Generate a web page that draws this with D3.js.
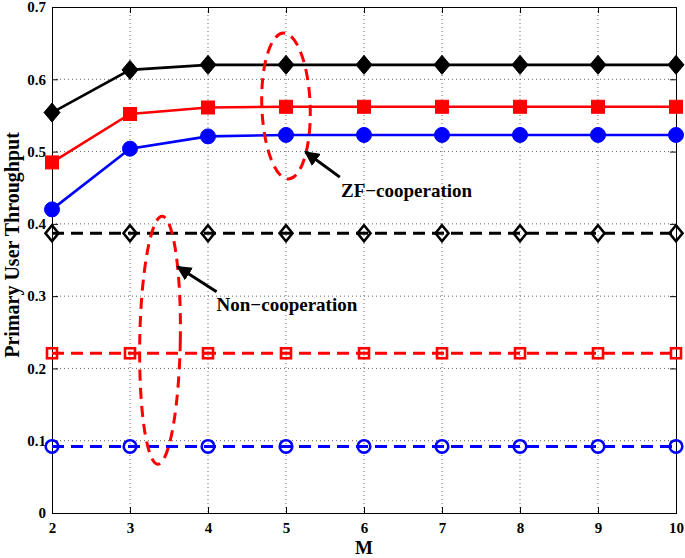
<!DOCTYPE html>
<html>
<head>
<meta charset="utf-8">
<script src="https://cdn.jsdelivr.net/npm/d3@7"></script>
<style>
  html, body { margin: 0; padding: 0; background: #fff; }
  svg { display: block; }
  text { font-family: "Liberation Serif", "Times New Roman", serif; font-weight: bold; fill: #000; }
</style>
</head>
<body>
<svg id="chart" width="685" height="558"></svg>
<script>
// ---------------- data ----------------
const mValues = [2, 3, 4, 5, 6, 7, 8, 9, 10];
const xTicks = [2, 3, 4, 5, 6, 7, 8, 9, 10];
const yTicks = [0, 0.1, 0.2, 0.3, 0.4, 0.5, 0.6, 0.7];
const yTickLabels = ["0", "0.1", "0.2", "0.3", "0.4", "0.5", "0.6", "0.7"];

const zfBlack = [0.554, 0.613, 0.620, 0.620, 0.620, 0.620, 0.620, 0.620, 0.620];
const zfRed   = [0.485, 0.552, 0.561, 0.562, 0.562, 0.562, 0.562, 0.562, 0.562];
const zfBlue  = [0.420, 0.504, 0.521, 0.523, 0.523, 0.523, 0.523, 0.523, 0.523];
const ncBlack = [0.387, 0.387, 0.387, 0.387, 0.387, 0.387, 0.387, 0.387, 0.387];
const ncRed   = [0.221, 0.221, 0.221, 0.221, 0.221, 0.221, 0.221, 0.221, 0.221];
const ncBlue  = [0.092, 0.092, 0.092, 0.092, 0.092, 0.092, 0.092, 0.092, 0.092];

const xLabel = "M";
const yLabel = "Primary User Throughput";
const zfText = "ZF\u2212cooperation";
const ncText = "Non\u2212cooperation";

// ---------------- layout ----------------
const svg = d3.select("#chart");
const L = 52, R = 676, T = 7, B = 513;
const x = d3.scaleLinear().domain([2, 10]).range([L, R]);
const y = d3.scaleLinear().domain([0, 0.7]).range([B, T]);

// grid
const grid = svg.append("g");
xTicks.slice(1, -1).forEach(v => {
  grid.append("line").attr("x1", x(v)).attr("x2", x(v)).attr("y1", T).attr("y2", B)
    .attr("stroke", "#666").attr("stroke-width", 1).attr("stroke-dasharray", "1,3");
});
yTicks.slice(1, -1).forEach(v => {
  grid.append("line").attr("x1", L).attr("x2", R).attr("y1", y(v)).attr("y2", y(v))
    .attr("stroke", "#666").attr("stroke-width", 1).attr("stroke-dasharray", "1,3");
});

// axes (box with inward ticks)
const tickLen = 6;
const axB = d3.axisBottom(x).tickValues(xTicks).tickSize(-tickLen).tickPadding(9).tickFormat(d3.format("d"));
const axT = d3.axisTop(x).tickValues(xTicks).tickSize(-tickLen).tickFormat("");
const axL = d3.axisLeft(y).tickValues(yTicks).tickSize(-tickLen).tickPadding(6).tickFormat((d, i) => yTickLabels[i]);
const axR = d3.axisRight(y).tickValues(yTicks).tickSize(-tickLen).tickFormat("");

function styleAxis(g) {
  g.select(".domain").remove();
  g.selectAll(".tick line").attr("stroke", "#000").attr("stroke-width", 1);
  g.selectAll(".tick text").style("font-family", "'Liberation Serif', serif")
    .style("font-weight", "bold").style("font-size", "15px").attr("fill", "#000");
}
svg.append("g").attr("transform", `translate(0,${B})`).call(axB).call(styleAxis);
svg.append("g").attr("transform", `translate(0,${T})`).call(axT).call(styleAxis);
svg.append("g").attr("transform", `translate(${L},0)`).call(axL).call(styleAxis);
svg.append("g").attr("transform", `translate(${R},0)`).call(axR).call(styleAxis);
svg.append("rect").attr("x", L + 0.5).attr("y", T + 0.5).attr("width", R - L).attr("height", B - T)
  .attr("fill", "none").attr("stroke", "#000").attr("stroke-width", 1);

// axis titles
svg.append("text").attr("x", (L + R) / 2).attr("y", 554).attr("text-anchor", "middle")
  .style("font-size", "19px").text(xLabel);
svg.append("text").attr("transform", `translate(19,245) rotate(-90)`)
  .attr("text-anchor", "middle").style("font-size", "20px").text(yLabel);

// ---------------- series ----------------
const line = d3.line().x((d, i) => x(mValues[i])).y(d => y(d));

const series = [
  { v: zfBlack, color: "#000", dash: null, marker: "diamond", filled: true },
  { v: zfRed, color: "#f00", dash: null, marker: "square", filled: true },
  { v: zfBlue, color: "#00f", dash: null, marker: "circle", filled: true },
  { v: ncBlack, color: "#000", dash: "12,7", marker: "diamond", filled: false },
  { v: ncRed, color: "#f00", dash: "12,7", marker: "square", filled: false },
  { v: ncBlue, color: "#00f", dash: "12,7", marker: "circle", filled: false }
];

series.forEach(s => {
  svg.append("path").datum(s.v).attr("d", line).attr("fill", "none")
    .attr("stroke", s.color).attr("stroke-width", s.filled ? 2.6 : 3)
    .attr("stroke-dasharray", s.dash);
  const g = svg.append("g");
  s.v.forEach((val, i) => {
    const cx = x(mValues[i]), cy = y(val);
    let el;
    if (s.marker === "diamond") {
      const hw = s.filled ? 8 : 6.5, hh = s.filled ? 9.5 : 8;
      el = g.append("path").attr("d", `M${cx},${cy - hh}L${cx + hw},${cy}L${cx},${cy + hh}L${cx - hw},${cy}Z`);
    } else if (s.marker === "square") {
      const h = s.filled ? 6.5 : 5;
      el = g.append("rect").attr("x", cx - h).attr("y", cy - h).attr("width", 2 * h).attr("height", 2 * h);
    } else {
      el = g.append("circle").attr("cx", cx).attr("cy", cy).attr("r", s.filled ? 7.5 : 6.3);
    }
    if (s.filled) el.attr("fill", s.color).attr("stroke", s.color).attr("stroke-width", 1);
    else el.attr("fill", "none").attr("stroke", s.color).attr("stroke-width", 2.6);
  });
});

// ---------------- annotations ----------------
function ellipse(cm, cv, rm, rv, rot) {
  const cx = x(cm), cy = y(cv);
  const rx = x(cm + rm) - cx, ry = y(cv - rv) - cy;
  svg.append("ellipse").attr("cx", 0).attr("cy", 0).attr("rx", rx).attr("ry", ry)
    .attr("transform", `translate(${cx},${cy}) rotate(${rot})`)
    .attr("fill", "none").attr("stroke", "#f00").attr("stroke-width", 3)
    .attr("stroke-dasharray", "11,7");
}
ellipse(5.0, 0.563, 0.31, 0.101, -2);
ellipse(3.385, 0.239, 0.26, 0.1715, 1);

svg.append("defs").append("marker").attr("id", "ah").attr("viewBox", "0 0 10 10")
  .attr("refX", 9).attr("refY", 5).attr("markerWidth", 5).attr("markerHeight", 5)
  .attr("markerUnits", "strokeWidth").attr("orient", "auto")
  .append("path").attr("d", "M0,0L10,5L0,10Z").attr("fill", "#000");

function arrow(m0, v0, m1, v1) {
  svg.append("line").attr("x1", x(m0)).attr("y1", y(v0)).attr("x2", x(m1)).attr("y2", y(v1))
    .attr("stroke", "#000").attr("stroke-width", 3).attr("marker-end", "url(#ah)");
}
arrow(5.69, 0.4647, 5.25, 0.4993);
arrow(4.11, 0.306, 3.61, 0.3407);

svg.append("text").attr("x", x(5.705)).attr("y", y(0.437)).style("font-size", "19px").text(zfText);
svg.append("text").attr("x", x(4.11)).attr("y", y(0.28)).style("font-size", "19px").text(ncText);
</script>
</body>
</html>
